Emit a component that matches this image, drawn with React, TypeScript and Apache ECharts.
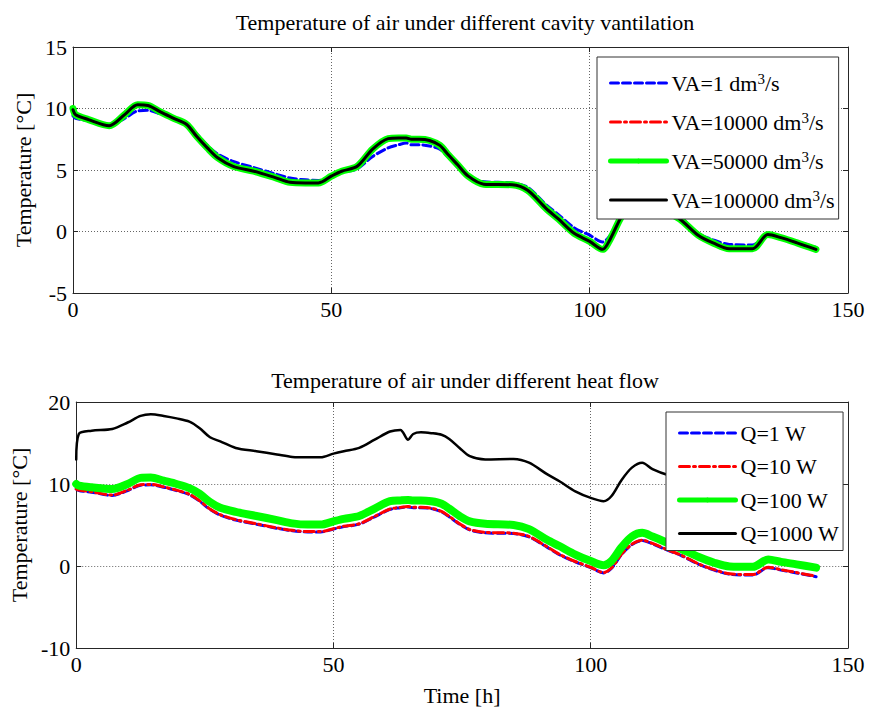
import React, { useEffect, useRef } from "react";
import * as echarts from "echarts";

const hours = [0, 0.5, 3, 7, 10, 12.5, 14.5, 17, 19.5, 22, 24, 26, 28, 31, 35, 39, 42, 45, 47.5, 50, 52, 55, 58, 61, 63, 64.5, 65.5, 67, 69, 71, 72.5, 74.5, 76.5, 79.5, 85, 88, 91.5, 94, 97, 100, 102.5, 104, 106, 108, 110, 112, 115, 117.5, 121, 124, 127, 131.5, 134.5, 137, 140, 143.8];

// Top chart: different cavity ventilation
const vaNames = ["VA=1 dm³/s", "VA=10000 dm³/s", "VA=50000 dm³/s", "VA=100000 dm³/s"];
const va1 = [9.4, 9.2, 9.0, 8.6, 9.2, 9.8, 9.85, 9.55, 9.2, 8.75,
  7.9, 7.0, 6.3, 5.7, 5.2, 4.7, 4.35, 4.2, 4.15, 4.5,
  4.8, 5.1, 6.1, 6.8, 7.05, 7.2, 7.05, 7.05, 6.95, 6.7,
  6.1, 5.2, 4.5, 4.05, 3.95, 3.6, 2.2, 1.35, 0.3, -0.3,
  -0.85, -0.3, 1.3, 2.5, 3.0, 2.6, 1.8, 1.2, -0.15, -0.7,
  -1.05, -1.1, -0.2, -0.45, -0.8, -1.3];
const va10000 = [9.85, 9.5, 9.1, 8.6, 9.45, 10.25, 10.2, 9.7, 9.2, 8.7,
  7.75, 6.85, 6.05, 5.35, 4.95, 4.45, 4.05, 4.0, 4.0, 4.5,
  4.9, 5.3, 6.65, 7.5, 7.55, 7.55, 7.45, 7.45, 7.35, 7.0,
  6.3, 5.4, 4.5, 3.9, 3.8, 3.4, 1.95, 1.05, -0.1, -0.75,
  -1.4, -0.55, 1.1, 2.3, 2.8, 2.4, 1.6, 1.0, -0.25, -0.9,
  -1.35, -1.35, -0.25, -0.5, -0.85, -1.4];
const va50000 = [10.0, 9.5, 9.1, 8.6, 9.5, 10.3, 10.25, 9.7, 9.2, 8.7,
  7.7, 6.8, 6.0, 5.3, 4.9, 4.4, 4.0, 3.95, 3.95, 4.5,
  4.9, 5.3, 6.7, 7.55, 7.6, 7.6, 7.5, 7.5, 7.4, 7.0,
  6.3, 5.4, 4.5, 3.85, 3.8, 3.35, 1.9, 1.0, -0.15, -0.8,
  -1.45, -0.6, 1.1, 2.3, 2.8, 2.4, 1.6, 1.0, -0.3, -0.95,
  -1.4, -1.4, -0.25, -0.5, -0.9, -1.45];
const va100000 = [9.9, 9.5, 9.1, 8.6, 9.5, 10.3, 10.25, 9.7, 9.2, 8.7,
  7.7, 6.8, 6.0, 5.3, 4.9, 4.4, 4.0, 3.95, 3.95, 4.5,
  4.9, 5.3, 6.7, 7.55, 7.6, 7.6, 7.5, 7.5, 7.4, 7.0,
  6.3, 5.4, 4.5, 3.85, 3.8, 3.35, 1.9, 1.0, -0.15, -0.8,
  -1.45, -0.6, 1.1, 2.3, 2.8, 2.4, 1.6, 1.0, -0.3, -0.95,
  -1.4, -1.4, -0.25, -0.5, -0.9, -1.45];

// Bottom chart: different heat flow
const qNames = ["Q=1 W", "Q=10 W", "Q=100 W", "Q=1000 W"];
const q1 = [9.4, 9.2, 9.0, 8.6, 9.2, 9.85, 9.9, 9.6, 9.2, 8.7,
  7.9, 6.9, 6.2, 5.6, 5.1, 4.6, 4.3, 4.15, 4.15, 4.5,
  4.8, 5.1, 6.0, 6.9, 7.1, 7.2, 7.1, 7.1, 7.0, 6.6,
  6.0, 5.1, 4.4, 4.05, 3.95, 3.55, 2.3, 1.35, 0.5, -0.2,
  -0.85, -0.3, 1.4, 2.6, 3.1, 2.7, 1.9, 1.3, 0.2, -0.5,
  -1.0, -1.1, -0.2, -0.5, -0.85, -1.3];
const q10 = [9.4, 9.25, 9.05, 8.65, 9.25, 9.9, 9.95, 9.65, 9.25, 8.75,
  7.95, 6.95, 6.25, 5.65, 5.15, 4.65, 4.35, 4.2, 4.2, 4.55,
  4.85, 5.15, 6.05, 6.95, 7.15, 7.25, 7.15, 7.15, 7.05, 6.65,
  6.05, 5.15, 4.45, 4.1, 4.0, 3.6, 2.35, 1.4, 0.55, -0.15,
  -0.8, -0.25, 1.45, 2.65, 3.15, 2.75, 1.95, 1.35, 0.25, -0.45,
  -0.95, -1.05, -0.15, -0.45, -0.8, -1.25];
const q100 = [10.0, 9.8, 9.6, 9.4, 10.0, 10.75, 10.8, 10.4, 10.0, 9.5,
  8.8, 7.8, 7.1, 6.6, 6.1, 5.6, 5.2, 5.05, 5.05, 5.45,
  5.75, 6.1, 7.0, 7.9, 8.0, 8.05, 8.0, 8.0, 7.9, 7.6,
  7.0, 6.1, 5.45, 5.15, 5.0, 4.5, 3.2, 2.4, 1.4, 0.6,
  0.1, 0.6, 2.3, 3.6, 4.05, 3.6, 2.8, 2.1, 1.1, 0.4,
  -0.05, -0.1, 0.8, 0.5, 0.2, -0.2];
const q1000 = [13.0, 16.1, 16.5, 16.7, 17.5, 18.3, 18.5, 18.3, 18.0, 17.6,
  16.8, 15.7, 15.2, 14.4, 14.0, 13.6, 13.3, 13.25, 13.25, 13.7,
  14.0, 14.4, 15.4, 16.4, 16.6, 15.4, 16.1, 16.3, 16.2, 16.0,
  15.5, 14.4, 13.4, 13.0, 13.05, 12.6, 11.2, 10.3, 9.1, 8.3,
  7.9, 8.5, 10.5, 12.0, 12.6, 11.8, 11.1, 10.9, 10.3, 9.8,
  9.6, 9.5, 10.3, 10.1, 9.8, 9.5];

const FONT = "Liberation Serif";
const FS = 22;
const AXIS_COLOR = "#262626";

const zip = (vals: number[]) => hours.map((h, i) => [h, vals[i]]);

const styles = [
  { color: "#0000ff", width: 3, type: [8, 4] as any, z: 3 },
  { color: "#ff0000", width: 3, type: [10, 4, 2, 4] as any, z: 4 },
  { color: "#00ff00", width: 7, type: "solid" as any, z: 5 },
  { color: "#000000", width: 3, type: "solid" as any, z: 6 },
];
const stylesBottom = [
  { color: "#0000ff", width: 3, type: [8, 4] as any, z: 3 },
  { color: "#ff0000", width: 3, type: [10, 4, 2, 4] as any, z: 4 },
  { color: "#00ff00", width: 8, type: "solid" as any, z: 5 },
  { color: "#000000", width: 2.5, type: "solid" as any, z: 6 },
];

export default function App() {
  const ref = useRef<HTMLDivElement>(null);
  useEffect(() => {
    document.body.style.margin = "0";
    const chart = echarts.init(ref.current!, null, { renderer: "svg" });

    const xBase = (gridIndex: number, showLabel: boolean, pos: "bottom" | "top") => ({
      type: "value",
      gridIndex,
      position: pos,
      min: 0,
      max: 150,
      interval: 50,
      axisLine: { show: true, onZero: false, lineStyle: { color: AXIS_COLOR, width: 1 } },
      axisTick: { show: true, inside: true, length: 5, lineStyle: { color: AXIS_COLOR } },
      axisLabel: {
        show: showLabel,
        color: "#000",
        fontFamily: FONT,
        fontSize: FS,
        margin: 5,
      },
      splitLine: {
        show: pos === "bottom",
        lineStyle: { color: "#666", type: [1, 2], width: 1 },
      },
    });
    const yBase = (gridIndex: number, min: number, max: number, interval: number, showLabel: boolean, pos: "left" | "right") => ({
      type: "value",
      gridIndex,
      position: pos,
      min,
      max,
      interval,
      axisLine: { show: true, onZero: false, lineStyle: { color: AXIS_COLOR, width: 1 } },
      axisTick: { show: true, inside: true, length: 5, lineStyle: { color: AXIS_COLOR } },
      axisLabel: { show: showLabel, color: "#000", fontFamily: FONT, fontSize: FS, margin: 6 },
      splitLine: {
        show: pos === "left",
        lineStyle: { color: "#666", type: [1, 2], width: 1 },
      },
      name: pos === "left" ? "Temperature [°C]" : "",
      nameLocation: "middle",
      nameGap: 38,
      nameTextStyle: { color: "#000", fontFamily: FONT, fontSize: FS },
    });

    const legendCommon = () => ({
      orient: "vertical",
      backgroundColor: "#fff",
      borderColor: "#333",
      borderWidth: 1,
      itemWidth: 56,
      itemHeight: 6,
      z: 10,
      textStyle: {
        fontFamily: FONT,
        fontSize: FS,
        color: "#000",
        lineHeight: 24,
        rich: {
          sup: { fontFamily: FONT, fontSize: 15, lineHeight: 15, verticalAlign: "top", color: "#000" },
        },
      },
      formatter: (name: string) => name.replace("³", "{sup|3}"),
    });

    const legendData = (names: string[], st: typeof styles) =>
      names.map((n, i) => ({
        name: n,
        itemStyle: { opacity: i === 2 ? 1 : 0, color: st[i].color },
        lineStyle: { width: i === 2 ? 5 : 3, color: st[i].color, type: st[i].type },
      }));

    const series: any[] = [];
    [va1, va10000, va50000, va100000].forEach((vals, i) => {
      const s = styles[i];
      series.push({
        name: vaNames[i],
        type: "line",
        xAxisIndex: 0,
        yAxisIndex: 0,
        data: zip(vals),
        symbol: "circle",
        symbolSize: 4,
        showSymbol: false,
        smooth: 0.3,
        z: s.z,
        lineStyle: { color: s.color, width: s.width, type: s.type, cap: "round", join: "round" },
        itemStyle: { color: s.color },
      });
    });
    [q1, q10, q100, q1000].forEach((vals, i) => {
      const s = stylesBottom[i];
      series.push({
        name: qNames[i],
        type: "line",
        xAxisIndex: 1,
        yAxisIndex: 1,
        data: zip(vals),
        symbol: "circle",
        symbolSize: 4,
        showSymbol: false,
        smooth: 0.3,
        z: s.z,
        lineStyle: { color: s.color, width: s.width, type: s.type, cap: "round", join: "round" },
        itemStyle: { color: s.color },
      });
    });

    chart.setOption({
      animation: false,
      backgroundColor: "#fff",
      textStyle: { fontFamily: FONT },
      title: [
        {
          text: "Temperature of air under different cavity vantilation",
          left: 460,
          top: 6,
          textAlign: "center",
          textStyle: { fontFamily: FONT, fontSize: FS, fontWeight: "normal", color: "#000" },
        },
        {
          text: "Temperature of air under different heat flow",
          left: 460,
          top: 364,
          textAlign: "center",
          textStyle: { fontFamily: FONT, fontSize: FS, fontWeight: "normal", color: "#000" },
        },
      ],
      grid: [
        { left: 73, right: 23, top: 47, height: 246, show: false },
        { left: 73, right: 23, top: 402, height: 246, show: false },
      ],
      xAxis: [
        xBase(0, true, "bottom"),
        {
          ...xBase(1, true, "bottom"),
          name: "Time [h]",
          nameLocation: "middle",
          nameGap: 36,
          nameTextStyle: { color: "#000", fontFamily: FONT, fontSize: FS },
        },
        xBase(0, false, "top"),
        xBase(1, false, "top"),
      ],
      yAxis: [
        yBase(0, -5, 15, 5, true, "left"),
        yBase(1, -10, 20, 10, true, "left"),
        yBase(0, -5, 15, 5, false, "right"),
        yBase(1, -10, 20, 10, false, "right"),
      ],
      legend: [
        {
          ...legendCommon(),
          left: 597,
          top: 57,
          padding: [14, 4, 7, 11],
          itemGap: 15,
          data: legendData(vaNames, styles),
        },
        {
          ...legendCommon(),
          left: 666,
          top: 412,
          padding: [9, 4, 5, 11],
          itemGap: 9.5,
          data: legendData(qNames, stylesBottom),
        },
      ],
      series,
    });
    return () => chart.dispose();
  }, []);
  return <div ref={ref} style={{ width: 871, height: 714 }} />;
}
